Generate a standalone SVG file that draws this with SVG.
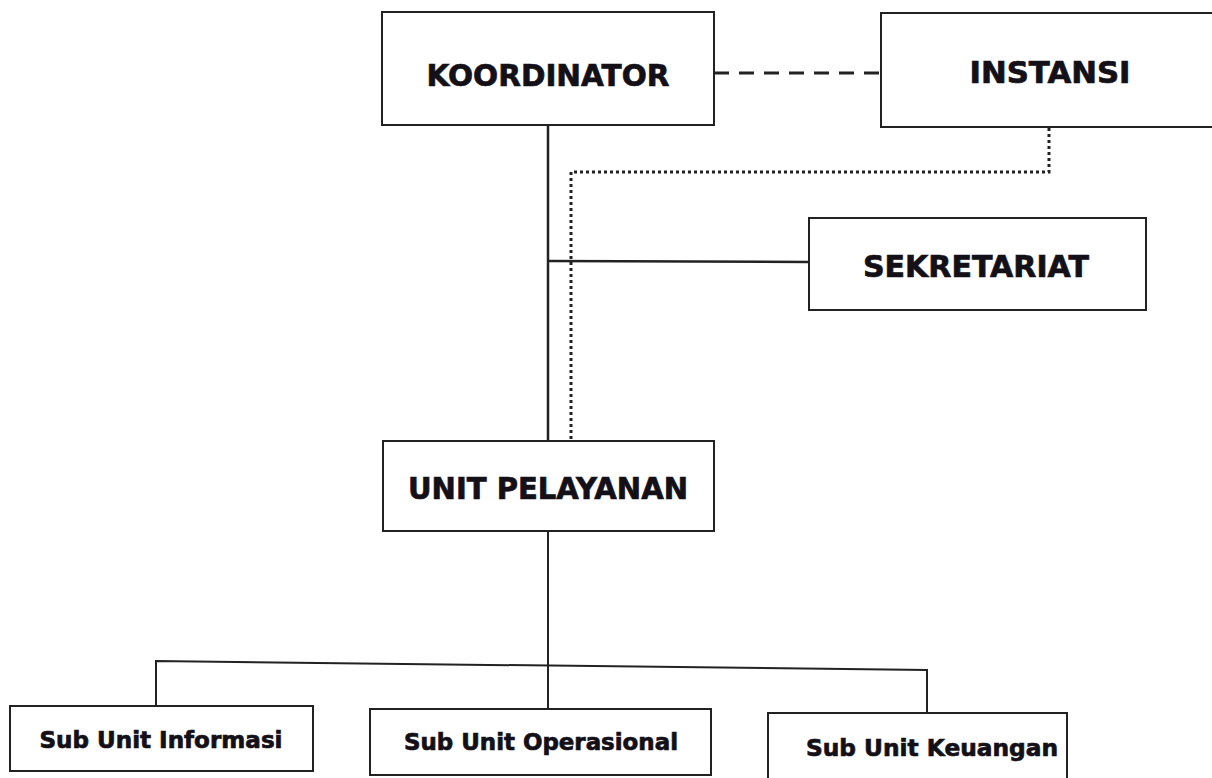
<svg xmlns="http://www.w3.org/2000/svg" width="1212" height="778" viewBox="0 0 1212 778">
<style>
.box{fill:#fff;stroke:#222;stroke-width:2}
.t{font-family:"DejaVu Sans",Verdana,sans-serif;font-weight:bold;fill:#141018;stroke:#141018;stroke-width:0.7;text-anchor:middle}
.big{font-size:29.5px}
.small{font-size:22.5px}
.solid{stroke:#222;stroke-width:2.5;fill:none}
.thin{stroke:#222;stroke-width:2;fill:none}
.dash{stroke:#222;stroke-width:3;fill:none;stroke-dasharray:15 10}
.dot{stroke:#222;stroke-width:3;fill:none;stroke-dasharray:3 3}
</style>
<rect width="1212" height="778" fill="#fff"/>
<g id="connectors">
<line class="dash" x1="714" y1="73" x2="881" y2="73"/>
<line class="solid" x1="548" y1="125" x2="548" y2="441"/>
<polyline class="dot" points="1049,128 1049,172 571,172 571,441"/>
<line class="solid" x1="548" y1="261" x2="809" y2="262"/>
<line class="thin" x1="548" y1="531" x2="548" y2="709"/>
<polyline class="thin" points="156,706 156,661 927,670 927,713"/>
</g>
<g id="koordinator">
<rect class="box" x="382" y="12" width="332" height="113"/>
<text class="t big" x="548" y="86" textLength="243" lengthAdjust="spacingAndGlyphs">KOORDINATOR</text>
</g>
<g id="instansi">
<rect class="box" x="881" y="13" width="340" height="114"/>
<text class="t big" x="1050" y="83" textLength="161" lengthAdjust="spacingAndGlyphs">INSTANSI</text>
</g>
<g id="sekretariat">
<rect class="box" x="809" y="218" width="337" height="92"/>
<text class="t big" x="976" y="277" textLength="226" lengthAdjust="spacingAndGlyphs">SEKRETARIAT</text>
</g>
<g id="unit-pelayanan">
<rect class="box" x="383" y="441" width="331" height="90"/>
<text class="t big" x="548" y="499" textLength="280" lengthAdjust="spacingAndGlyphs">UNIT PELAYANAN</text>
</g>
<g id="sub-informasi">
<rect class="box" x="10" y="706" width="303" height="65"/>
<text class="t small" x="161" y="748" textLength="243" lengthAdjust="spacingAndGlyphs">Sub Unit Informasi</text>
</g>
<g id="sub-operasional">
<rect class="box" x="370" y="709" width="341" height="66"/>
<text class="t small" x="541" y="750" textLength="274" lengthAdjust="spacingAndGlyphs">Sub Unit Operasional</text>
</g>
<g id="sub-keuangan">
<rect class="box" x="768" y="713" width="299" height="70"/>
<text class="t small" x="932" y="756" textLength="252" lengthAdjust="spacingAndGlyphs">Sub Unit Keuangan</text>
</g>
</svg>
